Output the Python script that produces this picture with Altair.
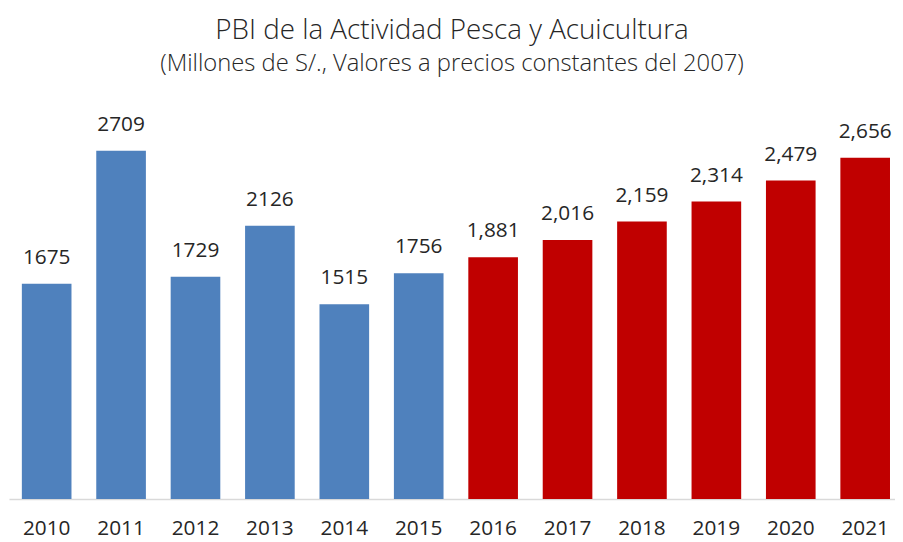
import altair as alt
import pandas as pd

years = ["2010", "2011", "2012", "2013", "2014", "2015",
         "2016", "2017", "2018", "2019", "2020", "2021"]
values = [1675, 2709, 1729, 2126, 1515, 1756,
          1881, 2016, 2159, 2314, 2479, 2656]
labels = ["1675", "2709", "1729", "2126", "1515", "1756",
          "1,881", "2,016", "2,159", "2,314", "2,479", "2,656"]
groups = ["hist"] * 6 + ["proy"] * 6

df = pd.DataFrame({"year": years, "value": values, "label": labels, "group": groups})

FONT = "Open Sans"

base = alt.Chart(df).encode(
    x=alt.X("year:N", sort=years,
            scale=alt.Scale(paddingInner=0.333, paddingOuter=0.12, align=0.72, round=False),
            axis=alt.Axis(title=None, labelAngle=0, ticks=False,
                          domainColor="#d9d9d9", domainWidth=1.5,
                          labelFont=FONT, labelFontSize=21, labelColor="#262626",
                          labelPadding=19)),
    y=alt.Y("value:Q", scale=alt.Scale(domain=[0, 3000], nice=False),
            axis=None),
)

bars = base.mark_bar().encode(
    color=alt.Color("group:N",
                    scale=alt.Scale(domain=["hist", "proy"], range=["#4f81bd", "#c00000"]),
                    legend=None)
)

text = base.mark_text(dy=-16, baseline="bottom", font=FONT, fontSize=21,
                      color="#262626").encode(text="label:N")

chart = (bars + text).properties(
    width=alt.Step(75.07),
    height=389,
    padding={"left": 1, "top": 104, "right": 0, "bottom": 40},
    autosize=alt.AutoSizeParams(type="none"),
    title=alt.TitleParams(
        text="PBI de la Actividad Pesca y Acuicultura",
        subtitle="(Millones de S/., Valores a precios constantes del 2007)",
        anchor="middle",
        font=FONT, fontSize=28, fontWeight=300, color="#262626",
        subtitleFont=FONT, subtitleFontSize=24, subtitleFontWeight=300,
        subtitleColor="#262626", subtitlePadding=7, offset=38,
    ),
).configure_view(stroke=None)

chart.save("out.html", embed_options={"renderer": "svg", "actions": False})
